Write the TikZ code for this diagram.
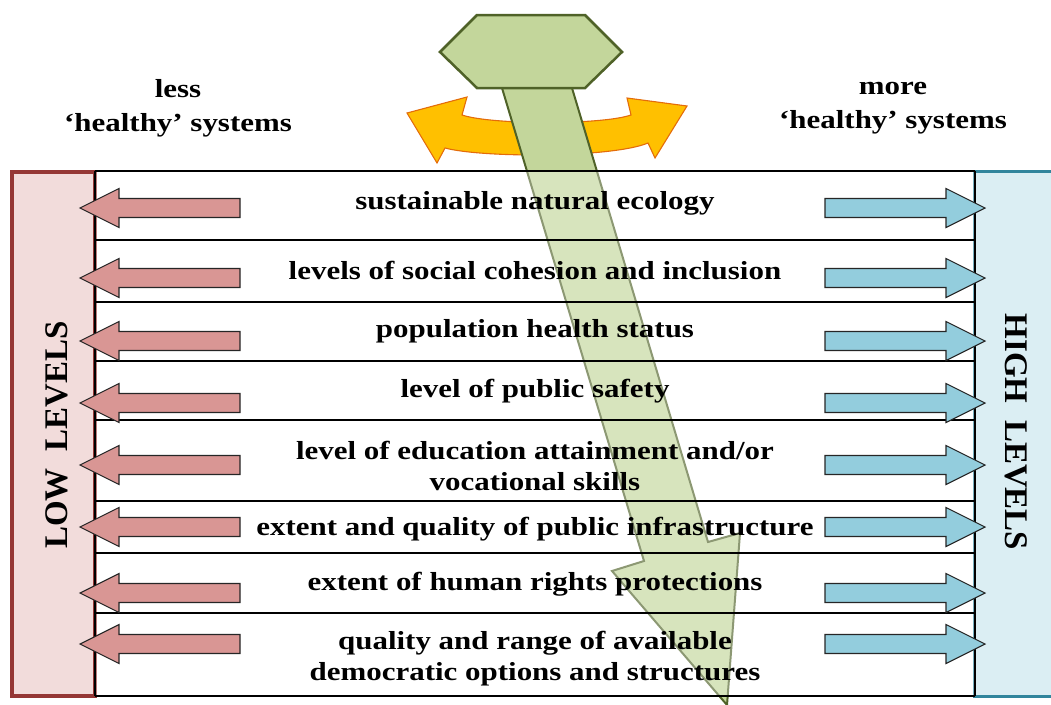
\documentclass[tikz,border=0pt]{standalone}
\usepackage{fontspec}
\setmainfont{Liberation Serif}
\newfontfamily\widefont{Liberation Serif}[FakeStretch=1.19]
\definecolor{lowfill}{HTML}{F2DCDB}
\definecolor{lowedge}{HTML}{953735}
\definecolor{highfill}{HTML}{DBEEF3}
\definecolor{highedge}{HTML}{31859C}
\definecolor{lessfill}{HTML}{D99694}
\definecolor{morefill}{HTML}{93CDDD}
\definecolor{swingfill}{HTML}{FFC000}
\definecolor{swingedge}{HTML}{E46C0A}
\definecolor{trendfill}{HTML}{C3D69B}
\definecolor{trendedge}{HTML}{4F6228}
\begin{document}
\begin{tikzpicture}[x=1pt,y=-1pt,
  rowtext/.style={font=\widefont\bfseries\fontsize{26}{31}\selectfont, align=center, inner sep=0pt},
  toptext/.style={font=\widefont\bfseries\fontsize{26}{34}\selectfont, align=center, inner sep=0pt},
  sidetext/.style={font=\bfseries\fontsize{33}{40}\selectfont, inner sep=0pt},
  lowbox/.style={fill=lowfill, draw=lowedge, line width=4pt},
  highbox/.style={fill=highfill, draw=highedge, line width=3pt},
  rowline/.style={draw=black, line width=1.3pt},
  lessarrow/.style={fill=lessfill, draw=black!85, line width=1.1pt, line join=miter},
  morearrow/.style={fill=morefill, draw=black!85, line width=1.1pt, line join=miter},
  swingarrow/.style={fill=swingfill, draw=swingedge, line width=1.1pt, line join=miter},
  trendarrow/.style={fill=trendfill, draw=trendedge, line width=2pt, line join=miter},
  hexshape/.style={fill=trendfill, draw=trendedge, line width=2.5pt, line join=miter}
]
\useasboundingbox (0,0) rectangle (1051,704);

% side panels
\filldraw[lowbox] (12,172) rectangle (95,696);
\filldraw[highbox] (974,171) rectangle (1062,696);

% curved two-way arrow behind the trend arrow
\filldraw[swingarrow] (407,113) -- (467,97) -- (462,115)
  .. controls (492,125) and (602,125) .. (631,115)
  -- (627,98) -- (687,106) -- (655,158) -- (648,143)
  .. controls (612,158) and (482,158) .. (445,148)
  -- (437,163) -- cycle;

% downward trend arrow and its hexagon head
\filldraw[trendarrow] (499.6,80) -- (644,561) -- (612,571) -- (727,705)
  -- (740,533) -- (708,542) -- (569.6,80) -- cycle;
\filldraw[hexshape] (440,52) -- (477,15) -- (585,15) -- (622,52) -- (585,88) -- (477,88) -- cycle;

% the table of indicators, slightly veiling the arrow
\fill[white, opacity=0.35] (95,171) rectangle (975,696);
\foreach \yy in {171,240,302,361,420,501,553,613,696}
  \draw[rowline] (95,\yy) -- (975,\yy);
\draw[rowline] (95,171) -- (95,696);
\draw[rowline] (975,171) -- (975,696);

% block arrows pointing to both ends of each row
\foreach \yy in {208,278,341,403,465,527,593,644} {
  \filldraw[lessarrow] (240,\yy-9.5) -- (119,\yy-9.5) -- (119,\yy-19.5) -- (80,\yy)
    -- (119,\yy+19.5) -- (119,\yy+9.5) -- (240,\yy+9.5) -- cycle;
  \filldraw[morearrow] (825,\yy-9.5) -- (946,\yy-9.5) -- (946,\yy-19.5) -- (985,\yy)
    -- (946,\yy+19.5) -- (946,\yy+9.5) -- (825,\yy+9.5) -- cycle;
}

% headings
\node[toptext] (less) at (178,108) {less\\‘healthy’ systems};
\node[toptext] (more) at (893,108) {more\\‘healthy’ systems};
\node[sidetext, rotate=90] (low) at (57,435) {LOW\ \ LEVELS};
\node[sidetext, rotate=-90] (high) at (1016,432) {HIGH\ \ LEVELS};

% row labels
\node[rowtext] (r1) at (535,203) {sustainable natural ecology};
\node[rowtext] (r2) at (535,271) {levels of social cohesion and inclusion};
\node[rowtext] (r3) at (535,331) {population health status};
\node[rowtext] (r4) at (535,391) {level of public safety};
\node[rowtext] (r5) at (535,466) {level of education attainment and/or\\vocational skills};
\node[rowtext] (r6) at (535,529) {extent and quality of public infrastructure};
\node[rowtext] (r7) at (535,584) {extent of human rights protections};
\node[rowtext] (r8) at (535,659) {quality and range of available\\democratic options and structures};
\end{tikzpicture}
\end{document}
